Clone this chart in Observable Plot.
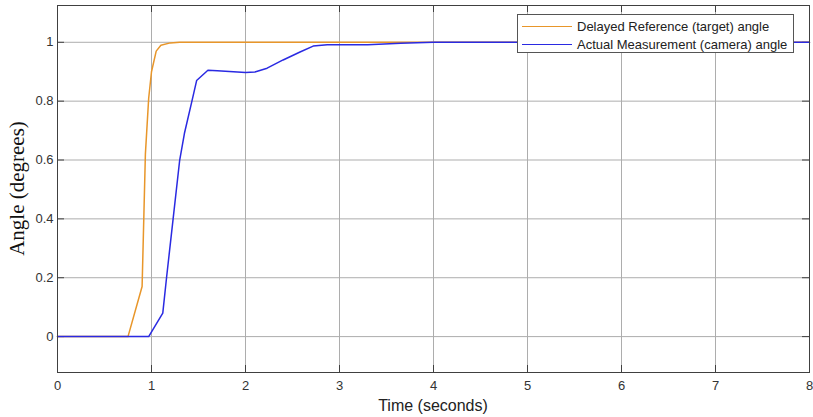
<!DOCTYPE html>
<html>
<head>
<meta charset="utf-8">
<script src="https://cdn.jsdelivr.net/npm/d3@7"></script>
<script src="https://cdn.jsdelivr.net/npm/@observablehq/plot@0.6"></script>
<style>
  html, body { margin: 0; padding: 0; background: #fff; }
  #chart { position: relative; width: 813px; height: 417px; }
  #legend {
    position: absolute; left: 517px; top: 14px; width: 277px; height: 39px;
    border: 1px solid #555; background: #fff; box-sizing: border-box;
    font: 13px "Liberation Sans", Arial, sans-serif; color: #222;
  }
  .row { position: absolute; left: 4px; height: 18px; display: flex; align-items: center; }
  .swatch { width: 50px; height: 0; border-top: 1.5px solid; margin-right: 5px; }
</style>
</head>
<body>
<div id="chart"></div>
<script>
// Step response: delayed reference (target) vs. camera-measured angle
const refTime  = [0, 0.75, 0.9, 0.935, 0.97, 1.0, 1.05, 1.1, 1.2, 1.3, 8];
const refAngle = [0, 0, 0.17, 0.62, 0.81, 0.9, 0.97, 0.99, 0.998, 1, 1];

const camTime  = [0, 0.97, 1.12, 1.16, 1.23, 1.3, 1.35, 1.43, 1.48, 1.6, 1.7, 2.0, 2.1, 2.23, 2.4, 2.58, 2.72, 2.87, 3.0, 3.3, 3.65, 4.0, 8];
const camAngle = [0, 0, 0.08, 0.2, 0.4, 0.6, 0.69, 0.8, 0.87, 0.905, 0.903, 0.897, 0.899, 0.912, 0.94, 0.967, 0.987, 0.992, 0.992, 0.992, 0.997, 1, 1];

const seriesNames = ["Delayed Reference (target) angle", "Actual Measurement (camera) angle"];
const seriesColors = ["#e8962a", "#2a2ae2"];

const xTicks = [0, 1, 2, 3, 4, 5, 6, 7, 8];
const yTicks = [0, 0.2, 0.4, 0.6, 0.8, 1];

const refData = refTime.map((t, i) => ({t, a: refAngle[i]}));
const camData = camTime.map((t, i) => ({t, a: camAngle[i]}));

const W = 813, H = 417;
const mL = 57, mR = 4, mT = 5, mB = 45;
const innerH = H - mT - mB, innerW = W - mL - mR;
const tickLen = 7;
const gridColor = "#adadad";
const axisColor = "#404040";

const svg = Plot.plot({
  width: W, height: H,
  marginLeft: mL, marginRight: mR, marginTop: mT, marginBottom: mB,
  style: {fontFamily: "'Liberation Sans', Arial, sans-serif", fontSize: "13px", color: "#333", background: "#fff"},
  x: {domain: [0, 8], ticks: xTicks, label: null},
  y: {domain: [-0.122, 1.125], ticks: yTicks, label: null},
  marks: [
    Plot.gridX(xTicks, {stroke: gridColor, strokeOpacity: 1}),
    Plot.gridY(yTicks, {stroke: gridColor, strokeOpacity: 1}),
    // inward tick marks on all four sides
    Plot.ruleX(xTicks, {x: d => d, insetTop: innerH - tickLen, stroke: axisColor}),
    Plot.ruleX(xTicks, {x: d => d, insetBottom: innerH - tickLen, stroke: axisColor}),
    Plot.ruleY(yTicks, {y: d => d, insetRight: innerW - tickLen, stroke: axisColor}),
    Plot.ruleY(yTicks, {y: d => d, insetLeft: innerW - tickLen, stroke: axisColor}),
    Plot.axisX(xTicks, {tickSize: 0, tickPadding: 8, fill: "#333", label: null}),
    Plot.axisY(yTicks, {tickSize: 0, tickPadding: 4, fill: "#333", label: null, tickFormat: d => String(d)}),
    Plot.line(refData, {x: "t", y: "a", stroke: seriesColors[0], strokeWidth: 1.5}),
    Plot.line(camData, {x: "t", y: "a", stroke: seriesColors[1], strokeWidth: 1.5}),
    Plot.frame({stroke: axisColor, strokeWidth: 1})
  ]
});

// axis titles
const ns = "http://www.w3.org/2000/svg";
const xt = document.createElementNS(ns, "text");
xt.setAttribute("x", mL + innerW / 2);
xt.setAttribute("y", 411);
xt.setAttribute("text-anchor", "middle");
xt.setAttribute("font-family", "'Liberation Sans', Arial, sans-serif");
xt.setAttribute("font-size", "16");
xt.setAttribute("fill", "#222");
xt.textContent = "Time (seconds)";
svg.appendChild(xt);

const yt = document.createElementNS(ns, "text");
yt.setAttribute("transform", `translate(24,${mT + innerH / 2}) rotate(-90)`);
yt.setAttribute("text-anchor", "middle");
yt.setAttribute("font-family", "'Liberation Serif', 'Times New Roman', serif");
yt.setAttribute("font-size", "21");
yt.setAttribute("fill", "#111");
yt.textContent = "Angle (degrees)";
svg.appendChild(yt);

const chart = document.getElementById("chart");
chart.appendChild(svg);

// legend box inside the plot area
const legend = document.createElement("div");
legend.id = "legend";
seriesNames.forEach((name, i) => {
  const row = document.createElement("div");
  row.className = "row";
  row.style.top = (2 + i * 18) + "px";
  const sw = document.createElement("span");
  sw.className = "swatch";
  sw.style.borderTopColor = seriesColors[i];
  const label = document.createElement("span");
  label.textContent = name;
  row.appendChild(sw);
  row.appendChild(label);
  legend.appendChild(row);
});
chart.appendChild(legend);
</script>
</body>
</html>
